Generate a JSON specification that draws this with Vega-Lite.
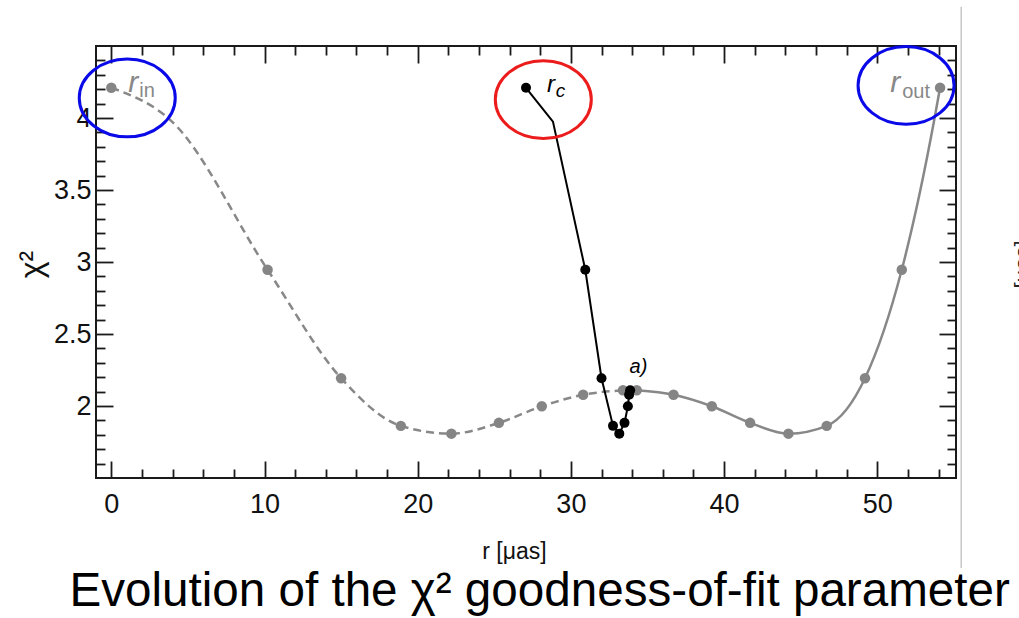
{
  "$schema": "https://vega.github.io/schema/vega-lite/v6.json",
  "width": 860,
  "height": 432,
  "autosize": {"type": "none"},
  "padding": {"left": 96, "top": 46, "right": 63, "bottom": 140},
  "background": "white",
  "config": {
    "view": {"stroke": "#1a1a1a", "strokeWidth": 2},
    "axis": {
      "domain": false,
      "grid": false,
      "tickColor": "#1a1a1a",
      "tickWidth": 1.8,
      "labelFont": "Liberation Sans",
      "labelFontSize": 27,
      "labelColor": "#111111",
      "titleFont": "Liberation Sans",
      "titleColor": "#111111",
      "titleFontWeight": "normal"
    },
    "text": {"font": "Liberation Sans"}
  },
  "datasets": {
    "fit": [
      {"series": "rin", "r": 0.0, "chi2": 4.21, "marker": true},
      {"series": "rin", "r": 3.96, "chi2": 3.975, "marker": false},
      {"series": "rin", "r": 10.2, "chi2": 2.946, "marker": true},
      {"series": "rin", "r": 15.0, "chi2": 2.193, "marker": true},
      {"series": "rin", "r": 18.9, "chi2": 1.862, "marker": true},
      {"series": "rin", "r": 22.2, "chi2": 1.808, "marker": true},
      {"series": "rin", "r": 25.3, "chi2": 1.883, "marker": true},
      {"series": "rin", "r": 28.1, "chi2": 1.998, "marker": true},
      {"series": "rin", "r": 30.8, "chi2": 2.078, "marker": true},
      {"series": "rin", "r": 33.4, "chi2": 2.109, "marker": true},
      {"series": "rout", "r": 54.1, "chi2": 4.21, "marker": true},
      {"series": "rout", "r": 53.7, "chi2": 3.975, "marker": false},
      {"series": "rout", "r": 51.6, "chi2": 2.946, "marker": true},
      {"series": "rout", "r": 49.2, "chi2": 2.193, "marker": true},
      {"series": "rout", "r": 46.7, "chi2": 1.862, "marker": true},
      {"series": "rout", "r": 44.2, "chi2": 1.808, "marker": true},
      {"series": "rout", "r": 41.7, "chi2": 1.883, "marker": true},
      {"series": "rout", "r": 39.2, "chi2": 1.998, "marker": true},
      {"series": "rout", "r": 36.7, "chi2": 2.078, "marker": true},
      {"series": "rout", "r": 34.3, "chi2": 2.109, "marker": true},
      {"series": "rc", "r": 27.07, "chi2": 4.21, "marker": true},
      {"series": "rc", "r": 28.83, "chi2": 3.975, "marker": false},
      {"series": "rc", "r": 30.94, "chi2": 2.946, "marker": true},
      {"series": "rc", "r": 32.0, "chi2": 2.193, "marker": true},
      {"series": "rc", "r": 32.75, "chi2": 1.862, "marker": true},
      {"series": "rc", "r": 33.16, "chi2": 1.808, "marker": true},
      {"series": "rc", "r": 33.5, "chi2": 1.883, "marker": true},
      {"series": "rc", "r": 33.72, "chi2": 1.998, "marker": true},
      {"series": "rc", "r": 33.8, "chi2": 2.078, "marker": true},
      {"series": "rc", "r": 33.87, "chi2": 2.109, "marker": true}
    ],
    "rings": [
      {"ring": "in", "r": 1.04, "chi2": 4.139},
      {"ring": "c", "r": 28.2, "chi2": 4.128},
      {"ring": "out", "r": 51.88, "chi2": 4.226}
    ],
    "notes": [
      {"kind": "radius", "label": "r", "r": 1.11, "chi2": 4.181},
      {"kind": "radius", "label": "r", "r": 50.85, "chi2": 4.179},
      {"kind": "sub", "label": "in", "r": 1.83, "chi2": 4.146},
      {"kind": "sub", "label": "out", "r": 51.63, "chi2": 4.137},
      {"kind": "center", "label": "r", "r": 28.44, "chi2": 4.178},
      {"kind": "centersub", "label": "c", "r": 29.02, "chi2": 4.143},
      {"kind": "panel", "label": "a)", "r": 33.83, "chi2": 2.228}
    ],
    "divider": [
      {"r": 55.48, "chi2": 4.773, "chi2_end": 0.875}
    ]
  },
  "encoding": {
    "x": {"field": "r", "type": "quantitative", "scale": {"domain": [-1, 55.14], "nice": false, "zero": false}, "axis": null},
    "y": {"field": "chi2", "type": "quantitative", "scale": {"domain": [1.5, 4.5], "nice": false, "zero": false}, "axis": null}
  },
  "layer": [
    {
      "data": {"name": "divider"},
      "mark": {"type": "rule", "color": "#c8c8c8", "strokeWidth": 1.5},
      "encoding": {"y2": {"field": "chi2_end"}}
    },
    {
      "data": {"name": "fit"},
      "transform": [{"filter": "datum.series === 'rin'"}],
      "mark": {"type": "line", "interpolate": "monotone", "color": "#888888", "strokeWidth": 2.5, "strokeDash": [8, 5]},
      "encoding": {
        "x": {
          "field": "r", "type": "quantitative",
          "scale": {"domain": [-1, 55.14], "nice": false, "zero": false},
          "axis": {
            "orient": "bottom", "values": [0, 10, 20, 30, 40, 50], "tickSize": -17, "labelPadding": 30,
            "title": "r [μas]", "titleFontSize": 23, "titleX": 418, "titleY": 80,
            "titleAlign": "center", "titleBaseline": "alphabetic"
          }
        },
        "y": {
          "field": "chi2", "type": "quantitative",
          "scale": {"domain": [1.5, 4.5], "nice": false, "zero": false},
          "axis": {
            "orient": "left", "values": [2, 2.5, 3, 3.5, 4], "format": "~g", "tickSize": -17, "labelPadding": 22,
            "title": "χ²", "titleFontSize": 32, "titleAngle": 270, "titleX": -65, "titleY": 218,
            "titleAlign": "center", "titleBaseline": "middle"
          }
        }
      }
    },
    {
      "data": {"name": "fit"},
      "transform": [{"filter": "datum.series === 'rout'"}],
      "mark": {"type": "line", "interpolate": "monotone", "color": "#888888", "strokeWidth": 2.5},
      "encoding": {
        "x": {
          "field": "r", "type": "quantitative",
          "axis": {"orient": "bottom", "values": [2, 4, 6, 8, 12, 14, 16, 18, 22, 24, 26, 28, 32, 34, 36, 38, 42, 44, 46, 48, 52, 54], "tickSize": -9, "labels": false, "title": null}
        },
        "y": {
          "field": "chi2", "type": "quantitative",
          "axis": {"orient": "left", "values": [1.6, 1.7, 1.8, 1.9, 2.1, 2.2, 2.3, 2.4, 2.6, 2.7, 2.8, 2.9, 3.1, 3.2, 3.3, 3.4, 3.6, 3.7, 3.8, 3.9, 4.1, 4.2, 4.3, 4.4], "tickSize": -9, "labels": false, "title": null}
        }
      }
    },
    {
      "data": {"name": "fit"},
      "transform": [{"filter": "datum.series === 'rc'"}],
      "mark": {"type": "line", "interpolate": "linear", "color": "#000000", "strokeWidth": 2},
      "encoding": {
        "x": {
          "field": "r", "type": "quantitative",
          "axis": {"orient": "top", "values": [0, 10, 20, 30, 40, 50], "tickSize": -17, "labels": false, "title": null}
        },
        "y": {
          "field": "chi2", "type": "quantitative",
          "axis": {"orient": "right", "values": [2, 2.5, 3, 3.5, 4], "tickSize": -17, "labels": false, "title": null}
        }
      }
    },
    {
      "data": {"name": "fit"},
      "transform": [{"filter": "datum.marker && datum.series !== 'rc'"}],
      "mark": {"type": "point", "filled": true, "opacity": 1, "size": 110, "color": "#858585"},
      "encoding": {
        "x": {
          "field": "r", "type": "quantitative",
          "axis": {"orient": "top", "values": [2, 4, 6, 8, 12, 14, 16, 18, 22, 24, 26, 28, 32, 34, 36, 38, 42, 44, 46, 48, 52, 54], "tickSize": -9, "labels": false, "title": null}
        },
        "y": {
          "field": "chi2", "type": "quantitative",
          "axis": {"orient": "right", "values": [1.6, 1.7, 1.8, 1.9, 2.1, 2.2, 2.3, 2.4, 2.6, 2.7, 2.8, 2.9, 3.1, 3.2, 3.3, 3.4, 3.6, 3.7, 3.8, 3.9, 4.1, 4.2, 4.3, 4.4], "tickSize": -9, "labels": false, "title": null}
        }
      }
    },
    {
      "data": {"name": "fit"},
      "transform": [{"filter": "datum.marker && datum.series === 'rc'"}],
      "mark": {"type": "point", "filled": true, "opacity": 1, "size": 100, "color": "#000000"}
    },
    {
      "data": {"name": "rings"},
      "mark": {"type": "point", "shape": "M-1,0A1,0.81,0,1,0,1,0A1,0.81,0,1,0,-1,0Z", "size": 9216, "filled": false, "opacity": 1, "strokeWidth": 3},
      "encoding": {
        "x": {
          "field": "r", "type": "quantitative",
          "axis": {
            "orient": "bottom", "ticks": false, "labels": false,
            "title": "Evolution of the χ² goodness-of-fit parameter",
            "titleFontSize": 47.6, "titleColor": "#000000", "titleX": -27, "titleY": 127,
            "titleAlign": "left", "titleBaseline": "alphabetic"
          }
        },
        "y": {
          "field": "chi2", "type": "quantitative",
          "axis": {
            "orient": "right", "ticks": false, "labels": false,
            "title": "[μas]", "titleFontSize": 22, "titleColor": "#222222", "titleAngle": 270,
            "titleX": 56, "titleY": 218, "titleAlign": "center", "titleBaseline": "top"
          }
        },
        "color": {"field": "ring", "type": "nominal", "scale": {"domain": ["in", "c", "out"], "range": ["#0a0ae8", "#ec1c1c", "#0a0ae8"]}, "legend": null}
      }
    },
    {
      "data": {"name": "notes"},
      "transform": [{"filter": "datum.kind === 'radius'"}],
      "mark": {"type": "text", "align": "left", "baseline": "alphabetic", "fontSize": 30, "fontStyle": "italic", "color": "#888888"},
      "encoding": {"text": {"field": "label"}}
    },
    {
      "data": {"name": "notes"},
      "transform": [{"filter": "datum.kind === 'sub'"}],
      "mark": {"type": "text", "align": "left", "baseline": "alphabetic", "fontSize": 20, "color": "#888888"},
      "encoding": {"text": {"field": "label"}}
    },
    {
      "data": {"name": "notes"},
      "transform": [{"filter": "datum.kind === 'center'"}],
      "mark": {"type": "text", "align": "left", "baseline": "alphabetic", "fontSize": 24, "fontStyle": "italic", "color": "#000000"},
      "encoding": {"text": {"field": "label"}}
    },
    {
      "data": {"name": "notes"},
      "transform": [{"filter": "datum.kind === 'centersub'"}],
      "mark": {"type": "text", "align": "left", "baseline": "alphabetic", "fontSize": 19, "fontStyle": "italic", "color": "#000000"},
      "encoding": {"text": {"field": "label"}}
    },
    {
      "data": {"name": "notes"},
      "transform": [{"filter": "datum.kind === 'panel'"}],
      "mark": {"type": "text", "align": "left", "baseline": "alphabetic", "fontSize": 20, "fontStyle": "italic", "color": "#000000"},
      "encoding": {"text": {"field": "label"}}
    }
  ],
  "resolve": {"axis": {"x": "independent", "y": "independent"}}
}
